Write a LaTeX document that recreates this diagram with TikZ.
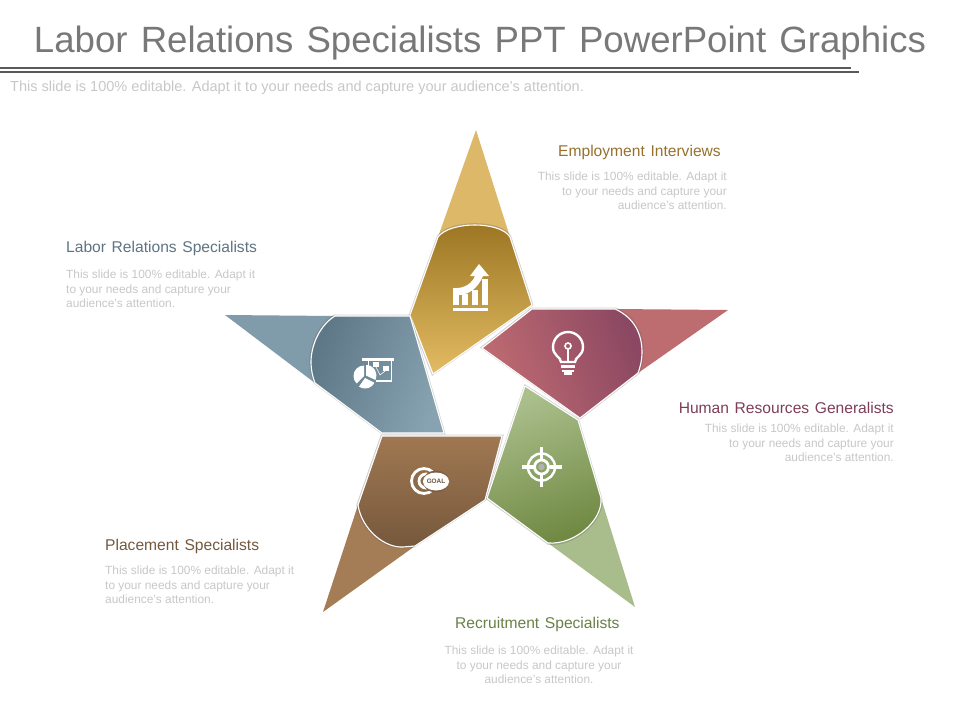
\documentclass[tikz,border=0pt]{standalone}
\usepackage{fontspec}
\usepackage{tikz}
\usetikzlibrary{shadows,shapes.geometric}
\setmainfont{Liberation Sans}
\newfontfamily\titlefont[WordSpace=1.25]{Liberation Sans}
\newfontfamily\headfont[WordSpace=1.3]{Liberation Sans}

\begin{document}
\begin{tikzpicture}[
            x=1pt, y=-1pt,
            tailpart/.style={draw=none}, tailpart/.default=,
            petal/.style={draw=white, line width=1.1pt, line join=round,
                drop shadow={shadow xshift=0pt, shadow yshift=0pt, shadow scale=1.025, opacity=0.3, fill=black!60}},
            icon/.style={fill=white, draw=none},
            iconline/.style={draw=white, line width=2.4pt, fill=none},
            rule/.style={draw=black!65, line width=2pt},
            headtext/.style={inner sep=0pt, font=\headfont\fontsize{15.6}{17}\selectfont},
            bodytext/.style={inner sep=0pt, text=black!22, font=\fontsize{11.9}{14.3}\selectfont},
        ]
        \useasboundingbox (0,0) rectangle (960,720);
        % header
        \node[inner sep=0pt, text=black!53, font=\titlefont\fontsize{36.6}{40}\selectfont] (title) at (480,43) {Labor Relations Specialists PPT PowerPoint Graphics};
        \coordinate (ruleal) at (0,68);
        \coordinate (rulear) at (851,68);
        \coordinate (rulebl) at (0,72);
        \coordinate (rulebr) at (859,72);
        \draw[rule] (ruleal) -- (rulear);
        \draw[rule] (rulebl) -- (rulebr);
        \node[anchor=west, inner sep=0pt, text=black!22, font=\fontsize{14.55}{16}\selectfont] (subtitle) at (10,88) {This slide is 100\% editable. Adapt it to your needs and capture your audience's attention.};

        % tails
        \fill[tailpart, fill={rgb,255:red,221;green,184;blue,104}] (476,130) -- (510,237) -- (438,237) -- cycle;
        \fill[tailpart, fill={rgb,255:red,189;green,108;blue,112}] (728,310) -- (638,373) -- (615,309) -- cycle;
        \fill[tailpart, fill={rgb,255:red,128;green,155;blue,170}] (225,315) -- (335,316) -- (315,383) -- cycle;
        \fill[tailpart, fill={rgb,255:red,164;green,124;blue,85}] (323,612) -- (358,505) -- (415,546) -- cycle;
        \fill[tailpart, fill={rgb,255:red,169;green,188;blue,140}] (635,607) -- (548,543) -- (601,498) -- cycle;

        % bodies
        \shade[petal, top color={rgb,255:red,156;green,117;blue,36}, bottom color={rgb,255:red,226;green,187;blue,98}]
            (438,237) .. controls (450,221) and (500,221) .. (510,237) -- (532,305) -- (433,374) -- (410,315) -- cycle;
        \shade[petal, left color={rgb,255:red,192;green,108;blue,114}, right color={rgb,255:red,140;green,72;blue,98}, shading angle=110]
            (532,309) -- (615,309) .. controls (635,318) and (642,335) .. (642,352) .. controls (642,360) and (640,368) .. (638,373) -- (580,418) -- (482,348) -- cycle;
        \shade[petal, left color={rgb,255:red,94;green,120;blue,136}, right color={rgb,255:red,135;green,162;blue,176}, shading angle=70]
            (335,316) .. controls (320,325) and (311,345) .. (311,362) .. controls (311,370) and (313,378) .. (315,383) -- (382,433) -- (444,433) -- (410,316) -- cycle;
        \shade[petal, top color={rgb,255:red,160;green,120;blue,82}, bottom color={rgb,255:red,118;green,88;blue,60}]
            (382,436) -- (502,436) -- (485,500) -- (415,546) -- (403,547) .. controls (385,548) and (362,530) .. (358,505) -- cycle;
        \shade[petal, top color={rgb,255:red,172;green,192;blue,142}, bottom color={rgb,255:red,112;green,137;blue,66}, shading angle=20]
            (525,386) -- (578,420) -- (601,498) .. controls (603,520) and (575,545) .. (548,543) -- (487,498) -- cycle;

        % chart icon
        \fill[icon] (453,308) rectangle (488,311);
        \fill[icon] (453,294) rectangle (459,305);
        \fill[icon] (462,294) rectangle (468,305);
        \fill[icon] (472,290) rectangle (478,305);
        \fill[icon] (482,279) rectangle (488,305);
        \fill[icon] (453,288) .. controls (465,289) and (472,283) .. (475,276) -- (470,276) -- (479,264) -- (489,276) -- (483,276) .. controls (478,288) and (468,297) .. (453,295) -- cycle;

        % bulb icon
        \draw[iconline] (561,362) .. controls (561,357) and (553,356) .. (553,347) arc[start angle=180, end angle=360, radius=15] .. controls (583,356) and (575,357) .. (575,362) -- cycle;
        \draw[draw=white, line width=1.6pt] (568,346) circle[radius=3];
        \draw[draw=white, line width=1.6pt] (568,349) -- (568,362);
        \fill[icon] (561,365) rectangle (575,368);
        \fill[icon] (562,369.5) rectangle (574,372);
        \fill[icon] (564,372) rectangle (572,374.5);

        % board icon
        \fill[icon] (362,358) rectangle (394,361);
        \draw[draw=white, line width=1pt] (368,361) -- (368,368);
        \draw[draw=white, line width=1.4pt] (391.5,361) -- (391.5,381) -- (376,381);
        \fill[icon] (373,362) rectangle (379,367);
        \fill[icon] (383,366) rectangle (389,371);
        \draw[draw=white, line width=0.6pt] (376,367) -- (380,375) -- (385,371);
        % pie slices
        \fill[icon] (364,376) -- ++(135:10.5) arc[start angle=135, end angle=270, radius=10.5] -- cycle;
        \fill[icon] (366,375.5) -- (366,365) arc[start angle=270, end angle=385, radius=10.5] -- cycle;
        \fill[icon] (365,378) -- ++(27:10.5) arc[start angle=27, end angle=125, radius=10.5] -- cycle;

        % goal icon
        \draw[draw=white, line width=2.8pt] (424,481) circle[radius=12.5];
        \draw[draw=white, line width=2.8pt] (426,481) circle[radius=7];
        \fill[fill={rgb,255:red,126;green,95;blue,66}] (436,481.5) ellipse[x radius=13, y radius=11];
        \node[ellipse, icon, inner sep=0pt, minimum width=22pt, minimum height=18pt, text={rgb,255:red,110;green,84;blue,58}, font=\fontsize{6.4}{7}\selectfont\bfseries] (goal) at (436,481.5) {GOAL};

        % target icon
        \draw[iconline] (541.5,467) circle[radius=13.5];
        \draw[draw=white, line width=2.8pt] (541.5,467) circle[radius=7];
        \fill[fill=white!70!black] (541.5,467) circle[radius=3.2];
        \draw[draw=white, line width=3.4pt] (541.5,447) -- (541.5,459);
        \draw[draw=white, line width=3.4pt] (541.5,475) -- (541.5,487);
        \draw[draw=white, line width=3.4pt] (521.5,467) -- (533.5,467);
        \draw[draw=white, line width=3.4pt] (549.5,467) -- (561.5,467);

        % labels
        \node[headtext, anchor=west, text={rgb,255:red,150;green,113;blue,45}] (emphead) at (558,152.5) {Employment Interviews};
        \node[bodytext, anchor=north east, align=right] (empbody) at (727,172) {This slide is 100\% editable. Adapt it\\to your needs and capture your\\audience's attention.};
        \node[headtext, anchor=west, text={rgb,255:red,94;green,116;blue,130}] (labhead) at (66,248.5) {Labor Relations Specialists};
        \node[bodytext, anchor=north west, align=left] (labbody) at (66,270) {This slide is 100\% editable. Adapt it\\to your needs and capture your\\audience's attention.};
        \node[headtext, anchor=east, text={rgb,255:red,125;green,62;blue,88}] (humhead) at (894,407.5) {Human Resources Generalists};
        \node[bodytext, anchor=north east, align=right] (humbody) at (894,424) {This slide is 100\% editable. Adapt it\\to your needs and capture your\\audience's attention.};
        \node[headtext, anchor=west, text={rgb,255:red,115;green,88;blue,62}] (plahead) at (105,546.5) {Placement Specialists};
        \node[bodytext, anchor=north west, align=left] (plabody) at (105,566) {This slide is 100\% editable. Adapt it\\to your needs and capture your\\audience's attention.};
        \node[headtext, anchor=west, text={rgb,255:red,105;green,128;blue,70}] (rechead) at (455,624.5) {Recruitment Specialists};
        \node[bodytext, anchor=north, align=center] (recbody) at (539,646) {This slide is 100\% editable. Adapt it\\to your needs and capture your\\audience's attention.};
    \end{tikzpicture}
\end{document}
